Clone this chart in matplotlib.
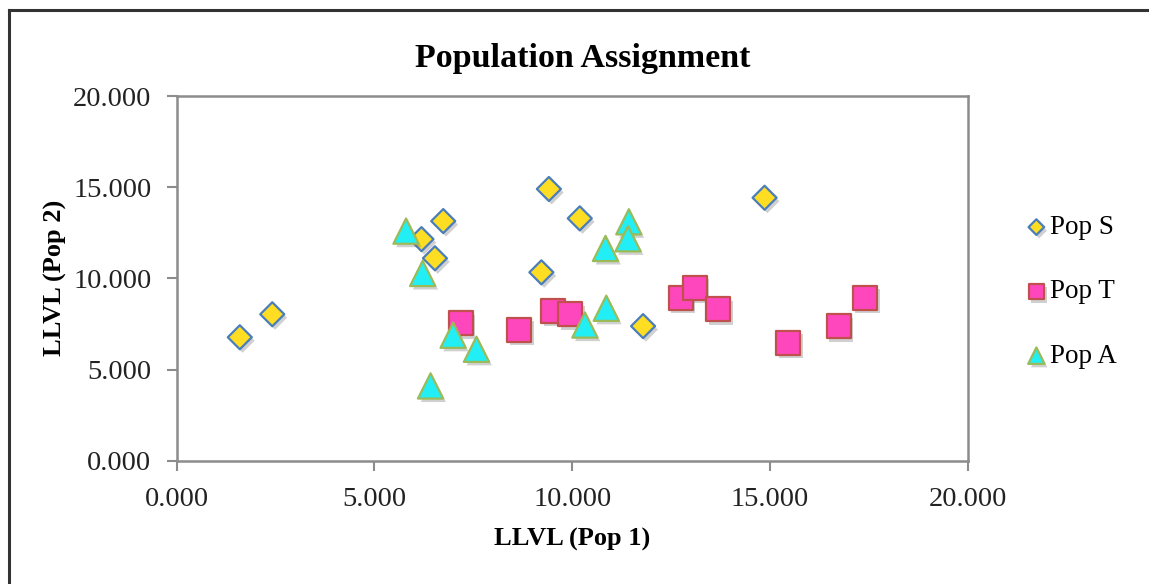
import matplotlib
matplotlib.use("Agg")
import matplotlib.pyplot as plt
import matplotlib.patheffects as pe
from matplotlib.lines import Line2D

plt.rcParams['font.family'] = ['Liberation Serif', 'DejaVu Serif']

# Pop S
s_x = [1.60, 2.42, 6.19, 6.74, 6.53, 9.22, 9.41, 10.19, 11.79, 14.86]
s_y = [6.77, 8.03, 12.15, 13.14, 11.10, 10.33, 14.90, 13.29, 7.38, 14.42]
# Pop T
t_x = [7.18, 8.65, 9.52, 9.94, 12.74, 13.09, 13.68, 15.45, 16.73, 17.39]
t_y = [7.53, 7.17, 8.22, 8.03, 8.94, 9.48, 8.30, 6.47, 7.38, 8.94]
# Pop A
a_x = [5.80, 6.22, 6.42, 6.99, 7.58, 10.32, 10.86, 10.84, 11.43, 11.41]
a_y = [12.59, 10.27, 4.10, 6.88, 6.11, 7.44, 8.36, 11.64, 13.10, 12.17]

ticks = [0, 5, 10, 15, 20]
tick_labels = ['0.000', '5.000', '10.000', '15.000', '20.000']

W, H = 1149, 584
fig = plt.figure(figsize=(W / 100, H / 100), dpi=100)
ax = fig.add_axes([176.5 / W, 1 - 460.7 / H, (968 - 176.5) / W, (460.7 - 96) / H])

shadow = [pe.SimplePatchShadow(offset=(2, -2.5), shadow_rgbFace='#666666', alpha=0.3), pe.Normal()]

ax.scatter(s_x, s_y, marker='D', s=150, c='#FFDD22', edgecolors='#4A7EBB', linewidths=1.6,
           label='Pop S', path_effects=shadow, zorder=3)
ax.scatter(t_x, t_y, marker='s', s=300, c='#FF47BD', edgecolors='#C0504D', linewidths=1.6,
           label='Pop T', path_effects=shadow, zorder=3)
ax.scatter(a_x, a_y, marker='^', s=330, c='#22EEF6', edgecolors='#9BBB59', linewidths=1.6,
           label='Pop A', path_effects=shadow, zorder=3)

ax.set_xlim(0, 20)
ax.set_ylim(0, 20)
ax.set_xticks(ticks)
ax.set_xticklabels(tick_labels)
ax.set_yticks(ticks)
ax.set_yticklabels(tick_labels)
ax.tick_params(axis='both', direction='out', length=7, width=1.5, color='#8C8C8C',
               labelsize=20.5, labelcolor='#222222')
ax.tick_params(axis='y', pad=11)
ax.tick_params(axis='x', pad=12)
for sp in ax.spines.values():
    sp.set_color('#8C8C8C')
    sp.set_linewidth(1.8)

ax.set_xlabel('LLVL (Pop 1)', fontsize=19, fontweight='bold')
ax.xaxis.set_label_coords(0.5, -0.183)
ax.set_ylabel('LLVL (Pop 2)', fontsize=19, fontweight='bold')
ax.yaxis.set_label_coords(-0.138, 0.5)

fig.text(582.5 / W, 1 - 59 / H, 'Population Assignment', fontsize=24.5, fontweight='bold',
         ha='center', va='center')

ax.legend(loc='center left', bbox_to_anchor=(1012 / W, 1 - 292 / H),
          bbox_transform=fig.transFigure, frameon=False, fontsize=19.5,
          markerscale=0.65, handletextpad=0.1, handlelength=0.8,
          labelspacing=1.45, borderpad=0)

# outer chart border (top and left edges visible)
fig.add_artist(Line2D([9 / W, 1.01], [1 - 9.5 / H, 1 - 9.5 / H], transform=fig.transFigure,
                      color='#333333', lw=2.2))
fig.add_artist(Line2D([9 / W, 9 / W], [1 - 9.5 / H, -0.01], transform=fig.transFigure,
                      color='#333333', lw=2.2))

fig.savefig('out.png', dpi=100)
